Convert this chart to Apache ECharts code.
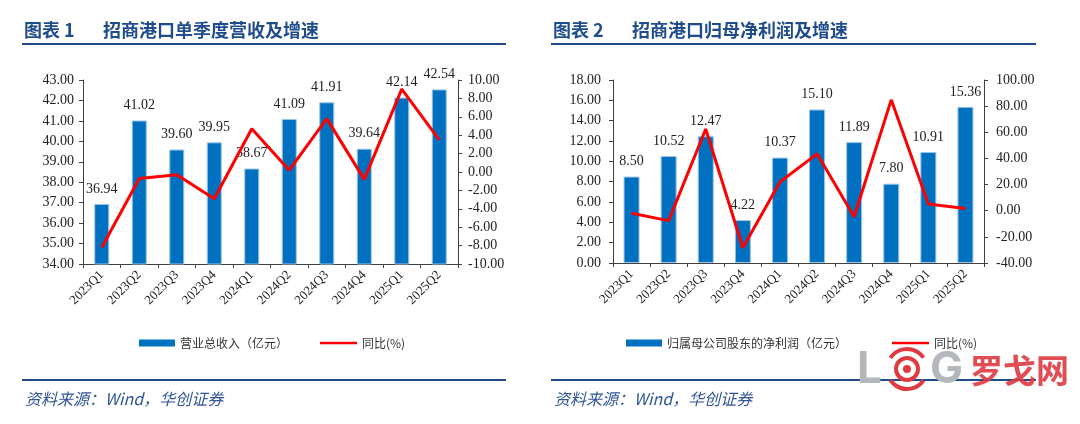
<!DOCTYPE html>
<html>
<head>
<meta charset="utf-8">
<script src="https://cdn.jsdelivr.net/npm/echarts@6/dist/echarts.min.js"></script>
<style>
  html, body { margin: 0; padding: 0; background: #fff; }
  #chart { width: 1080px; height: 424px; }
</style>
</head>
<body>
<div id="chart"></div>
<script>
// quarters shared by both panels
const quarters = ["2023Q1", "2023Q2", "2023Q3", "2023Q4", "2024Q1", "2024Q2", "2024Q3", "2024Q4", "2025Q1", "2025Q2"];

// panel 1: revenue (亿元) and yoy (%)
const revenue = [36.94, 41.02, 39.60, 39.95, 38.67, 41.09, 41.91, 39.64, 42.14, 42.54];
const revenueYoY = [-8.2, -0.7, -0.3, -2.9, 4.7, 0.2, 5.8, -0.8, 9.0, 3.5];

// panel 2: net profit attributable to parent (亿元) and yoy (%)
const netProfit = [8.50, 10.52, 12.47, 4.22, 10.37, 15.10, 11.89, 7.80, 10.91, 15.36];
const netProfitYoY = [-2.0, -7.6, 62.5, -28.3, 22.0, 43.5, -4.6, 84.8, 5.2, 1.7];

const titles = ["图表 1", "图表 2"];
const subTitles = ["招商港口单季度营收及增速", "招商港口归母净利润及增速"];
const barNames = ["营业总收入（亿元）", "归属母公司股东的净利润（亿元）"];
const lineName = "同比(%)";
const sourceText = "资料来源：Wind，华创证券";

const BLUE = "#0070C0";
const RED = "#FF0000";
const NAVY = "#1F4C8C";
const SERIF = "Liberation Serif, DejaVu Serif, serif";
const CJK = "Noto Sans CJK SC, sans-serif";

const chart = echarts.init(document.getElementById("chart"));

function fixed2(v) {
  return Number(v).toFixed(2);
}

function valueAxis(gridIndex, position, min, max, interval, margin) {
  return {
    type: "value",
    gridIndex,
    position,
    min,
    max,
    interval,
    splitLine: { show: false },
    axisLine: { show: true, onZero: false, lineStyle: { color: "#404040", width: 1 } },
    axisTick: { show: true, length: 4, lineStyle: { color: "#404040" } },
    axisLabel: { color: "#222", fontFamily: SERIF, fontSize: 14, margin, formatter: fixed2 }
  };
}

function catAxis(gridIndex) {
  return {
    type: "category",
    gridIndex,
    data: quarters,
    boundaryGap: true,
    axisLine: { show: true, onZero: false, lineStyle: { color: "#404040", width: 1 } },
    axisTick: { show: true, length: 4, lineStyle: { color: "#404040" } },
    axisLabel: { color: "#222", fontFamily: SERIF, fontSize: 13, rotate: 45, margin: 9, interval: 0 }
  };
}

function barSeries(name, axisIndex, data, width) {
  return {
    name,
    type: "bar",
    xAxisIndex: axisIndex,
    yAxisIndex: axisIndex * 2,
    data,
    barWidth: width,
    z: 2,
    itemStyle: { color: BLUE, borderColor: "#9CC3E8", borderWidth: 1 },
    label: {
      show: true,
      position: "top",
      distance: 8,
      color: "#222",
      fontFamily: SERIF,
      fontSize: 14,
      formatter: (p) => fixed2(p.value)
    }
  };
}

function lineSeries(axisIndex, data) {
  return {
    name: lineName,
    type: "line",
    xAxisIndex: axisIndex,
    yAxisIndex: axisIndex * 2 + 1,
    data,
    symbol: "none",
    z: 5,
    lineStyle: { color: RED, width: 3 },
    itemStyle: { color: RED }
  };
}

function legendItem(left, name, isLine) {
  return {
    left,
    top: 332,
    data: [{ name, icon: "rect" }],
    itemWidth: isLine ? 37 : 36,
    itemHeight: isLine ? 2.5 : 7,
    itemStyle: { borderWidth: 0 },
    selectedMode: false,
    textStyle: { color: "#333", fontFamily: CJK, fontSize: 12 }
  };
}

function header(x, lineX1, lineX2, idx) {
  return [
    {
      type: "text", left: x, top: 21,
      style: { text: titles[idx], fill: NAVY, font: "bold 18px " + CJK }
    },
    {
      type: "text", left: x + 79, top: 21,
      style: { text: subTitles[idx], fill: NAVY, font: "bold 18px " + CJK }
    },
    {
      type: "line",
      shape: { x1: lineX1, y1: 44, x2: lineX2, y2: 44 },
      style: { stroke: NAVY, lineWidth: 2 }
    },
    {
      type: "line",
      shape: { x1: lineX1, y1: 380, x2: lineX2, y2: 380 },
      style: { stroke: NAVY, lineWidth: 2 }
    },
    {
      type: "text", left: x + 1, top: 391,
      style: { text: sourceText, fill: "#2F5597", font: "italic 16px " + CJK }
    }
  ];
}

const WM_GRAY = "#B4B8BC";
const WM_RED = "#DE3A40";
const watermark = {
  type: "group",
  x: 0,
  y: 0,
  z: 100,
  children: [
    { type: "text", x: 857, y: 370, style: { text: "L", fill: WM_GRAY, font: "bold 44px Inter, sans-serif", verticalAlign: "middle" } },
    { type: "arc", shape: { cx: 907, cy: 369, r: 20, startAngle: -2.55, endAngle: -0.6 }, style: { stroke: WM_RED, lineWidth: 4, fill: null } },
    { type: "arc", shape: { cx: 907, cy: 369, r: 20, startAngle: 0.6, endAngle: 2.55 }, style: { stroke: WM_RED, lineWidth: 4, fill: null } },
    { type: "circle", shape: { cx: 907, cy: 369, r: 11 }, style: { stroke: WM_RED, lineWidth: 4, fill: null } },
    { type: "circle", shape: { cx: 907, cy: 369, r: 4 }, style: { fill: WM_RED } },
    { type: "text", x: 930, y: 370, style: { text: "G", fill: WM_GRAY, font: "bold 44px Inter, sans-serif", verticalAlign: "middle" } },
    { type: "text", x: 970, y: 370, style: { text: "罗戈网", fill: WM_RED, opacity: 0.9, font: "bold 33px " + CJK, verticalAlign: "middle" } }
  ]
};

chart.setOption({
  animation: false,
  backgroundColor: "#fff",
  grid: [
    { left: 83, top: 80, width: 375, height: 184 },
    { left: 613, top: 80, width: 371, height: 183 }
  ],
  xAxis: [catAxis(0), catAxis(1)],
  yAxis: [
    valueAxis(0, "left", 34, 43, 1, 9),
    valueAxis(0, "right", -10, 10, 2, 10),
    valueAxis(1, "left", 0, 18, 2, 12),
    valueAxis(1, "right", -40, 100, 20, 12)
  ],
  legend: [
    legendItem(134, barNames[0], false),
    legendItem(315, lineName, true),
    legendItem(621, barNames[1], false),
    legendItem(887, lineName, true)
  ],
  series: [
    barSeries(barNames[0], 0, revenue, 15),
    lineSeries(0, revenueYoY),
    barSeries(barNames[1], 1, netProfit, 16),
    lineSeries(1, netProfitYoY)
  ],
  graphic: [
    ...header(24, 22, 506, 0),
    ...header(553, 551, 1036, 1),
    watermark
  ]
});
</script>
</body>
</html>
